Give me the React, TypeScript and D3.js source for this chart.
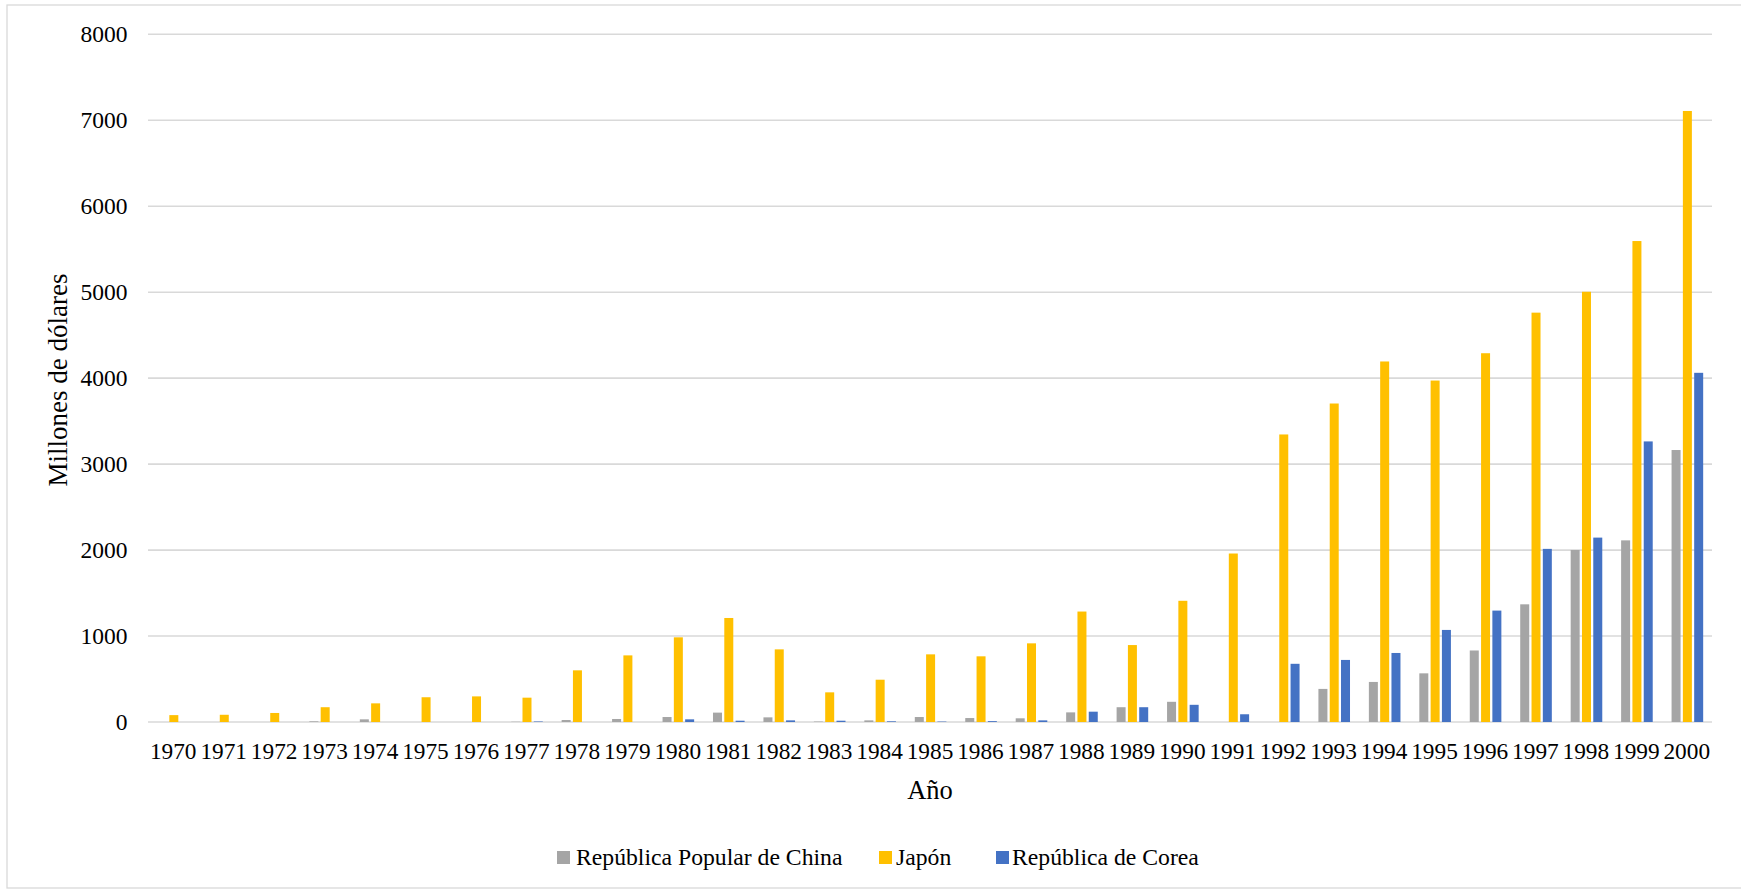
import React from "react";
import * as d3 from "d3";

const years: string[] = d3.range(1970, 2001).map(String);
const seriesNames: string[] = ["República Popular de China", "Japón", "República de Corea"];
const china: number[] = [0, 0, 0, 8, 31, 0, 0, 3, 23, 35, 58, 109, 54, 5, 19, 58, 46, 43, 112, 172, 235, 0, 0, 385, 466, 566, 832, 1369, 2001, 2113, 3164];
const japan: number[] = [80, 84, 105, 172, 217, 288, 298, 283, 601, 775, 985, 1210, 845, 345, 492, 787, 764, 915, 1285, 895, 1410, 1960, 3345, 3705, 4194, 3972, 4290, 4762, 5005, 5595, 7108];
const korea: number[] = [0, 0, 0, 0, 0, 0, 0, 6, 0, 0, 31, 15, 19, 15, 8, 5, 10, 19, 120, 172, 200, 90, 677, 722, 803, 1071, 1296, 2014, 2145, 3264, 4062];
const yTicks: number[] = [0, 1000, 2000, 3000, 4000, 5000, 6000, 7000, 8000];
const colors: string[] = ["#A5A5A5", "#FFC000", "#4472C4"];

const W = 1741;
const H = 890;
const FONT = "'Liberation Serif', 'Times New Roman', serif";

export default function App() {
  const left = 148;
  const right = 1712;
  const top = 34.3;
  const bottom = 722;
  const x = d3.scaleBand<string>().domain(years).range([left, right]).padding(0);
  const y = d3.scaleLinear().domain([0, 8000]).range([bottom, top]);
  const data = [china, japan, korea];
  const barW = 9;
  const step = 11.3;
  const offsets = [-step, 0, step];

  const legendItems = [
    { sq: 557, tx: 576 },
    { sq: 879, tx: 896 },
    { sq: 996, tx: 1012 },
  ];

  return (
    <svg
      width={W}
      height={H}
      style={{ position: "absolute", left: 0, top: 0, background: "#fff" }}
      fontFamily={FONT}
    >
      <rect x={7} y={5} width={W - 6} height={H - 7} fill="#fff" stroke="#D9D9D9" strokeWidth={1.3} />
      {yTicks.map((t) => (
        <g key={t}>
          <line x1={left} x2={right} y1={y(t)} y2={y(t)} stroke="#D9D9D9" strokeWidth={1.6} />
          <text x={127.5} y={y(t)} dy="0.34em" textAnchor="end" fontSize={23.5} fill="#000">
            {t}
          </text>
        </g>
      ))}
      {data.map((vals, si) =>
        vals.map((v, i) => {
          const cx = (x(years[i]) as number) + x.bandwidth() / 2 + 0.6 + offsets[si];
          if (v <= 0) return null;
          return (
            <rect
              key={`${si}-${i}`}
              x={cx - barW / 2}
              y={y(v)}
              width={barW}
              height={y(0) - y(v)}
              fill={colors[si]}
            />
          );
        })
      )}
      {years.map((yr) => (
        <text
          key={yr}
          x={(x(yr) as number) + x.bandwidth() / 2}
          y={759}
          textAnchor="middle"
          fontSize={23.3}
          fill="#000"
        >
          {yr}
        </text>
      ))}
      <text x={(left + right) / 2} y={799} textAnchor="middle" fontSize={26.5} fill="#000">
        Año
      </text>
      <text
        transform={`translate(67,380) rotate(-90)`}
        textAnchor="middle"
        fontSize={27}
        fill="#000"
      >
        Millones de dólares
      </text>
      {seriesNames.map((n, i) => (
        <g key={n}>
          <rect x={legendItems[i].sq} y={851} width={13} height={13} fill={colors[i]} />
          <text x={legendItems[i].tx} y={865} fontSize={23.7} fill="#000">
            {n}
          </text>
        </g>
      ))}
    </svg>
  );
}
